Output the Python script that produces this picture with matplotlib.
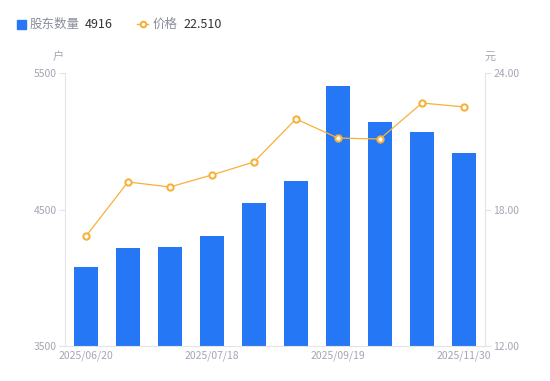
import matplotlib
matplotlib.use('Agg')
import matplotlib.pyplot as plt
from matplotlib.lines import Line2D
from matplotlib.patches import Rectangle

plt.rcParams['font.family'] = ['Noto Sans CJK SC', 'DejaVu Sans']

dates = ['2025/06/20', '2025/06/30', '2025/07/10', '2025/07/18', '2025/07/31',
         '2025/08/29', '2025/09/19', '2025/09/30', '2025/10/31', '2025/11/30']
holders = [4080, 4218, 4225, 4306, 4548, 4709, 5405, 5141, 5068, 4916]
prices = [16.83, 19.21, 18.99, 19.52, 20.09, 21.98, 21.14, 21.10, 22.68, 22.51]

bar_color = '#2677f5'
line_color = '#f7b13a'
tick_color = '#a3a6b4'
axis_color = '#e3e4e8'

fig = plt.figure(figsize=(5.5, 3.81), dpi=100)
ax = fig.add_axes([65 / 550, 35 / 381, 420 / 550, 273 / 381])
ax2 = ax.twinx()

x = list(range(len(dates)))
ax.bar(x, holders, width=0.58, color=bar_color, zorder=2)
ax2.plot(x, prices, color=line_color, lw=0.9, marker='o', ms=4.5,
         mfc='white', mec=line_color, mew=1.5, zorder=3)

ax.set_xlim(-0.5, len(dates) - 0.5)
ax.set_ylim(3500, 5500)
ax.set_yticks([3500, 4500, 5500])
ax2.set_ylim(12, 24)
ax2.set_yticks([12, 18, 24])
ax2.set_yticklabels(['12.00', '18.00', '24.00'])

ax.set_xticks(x[::3])
ax.set_xticklabels(dates[::3])

for a in (ax, ax2):
    a.spines['top'].set_visible(False)
    a.spines['left'].set_color(axis_color)
    a.spines['right'].set_color(axis_color)
    a.spines['bottom'].set_color(axis_color)
    a.tick_params(colors=tick_color, labelsize=7.5, length=4, width=0.8, pad=2)
ax.tick_params(axis='x', length=0, pad=3)
ax.tick_params(axis='y', colors=axis_color, labelcolor=tick_color)
ax2.tick_params(axis='y', colors=axis_color, labelcolor=tick_color)
ax.spines['right'].set_visible(False)
ax2.spines['left'].set_visible(False)
ax2.spines['bottom'].set_visible(False)

fig.text(58 / 550, 1 - 57 / 381, '户', color=tick_color, fontsize=8, ha='center', va='center')
fig.text(490 / 550, 1 - 57 / 381, '元', color=tick_color, fontsize=8, ha='center', va='center')

# legend
ly = 1 - 24 / 381
fig.patches.append(Rectangle((17 / 550, ly - 4.5 / 381), 9 / 550, 9 / 381, transform=fig.transFigure,
                             color=bar_color, figure=fig))
fig.text(30 / 550, ly, '股东数量', color='#8a8d99', fontsize=9, va='center')
fig.text(85 / 550, ly, str(holders[-1]), color='#333333', fontsize=9, va='center')
fig.lines.append(Line2D([137 / 550, 148 / 550], [ly, ly], transform=fig.transFigure,
                        color=line_color, lw=1, figure=fig))
fig.lines.append(Line2D([142.5 / 550], [ly], transform=fig.transFigure, color=line_color,
                        marker='o', ms=4, mfc='white', mec=line_color, mew=1.5, figure=fig))
fig.text(153 / 550, ly, '价格', color='#8a8d99', fontsize=9, va='center')
fig.text(183 / 550, ly, '%.3f' % prices[-1], color='#333333', fontsize=9, va='center')

fig.savefig('out.png', dpi=100)
